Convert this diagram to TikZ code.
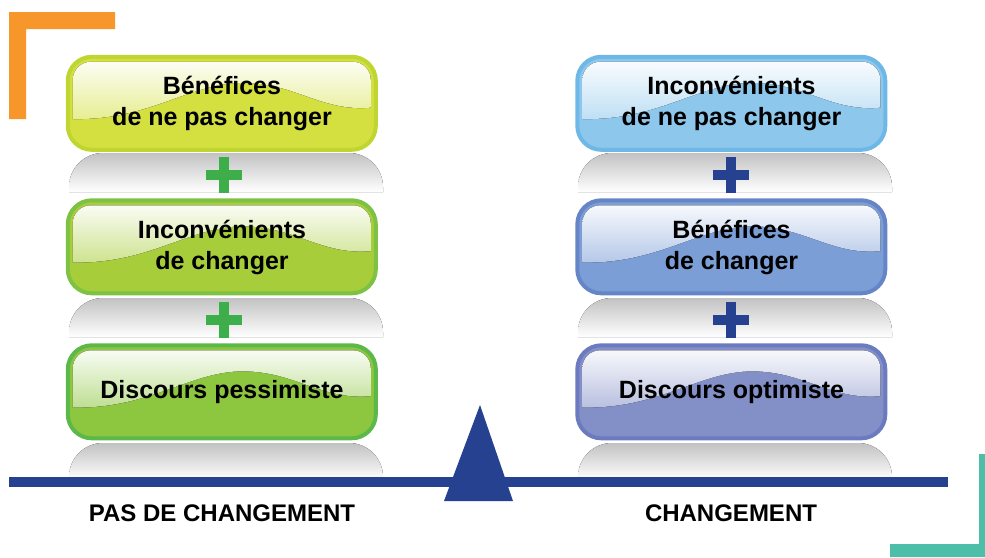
\documentclass[tikz,border=0pt]{standalone}
\usepackage{fontspec}
\setmainfont{Liberation Sans}
\usetikzlibrary{calc,positioning,backgrounds}

\definecolor{jauneVert}{HTML}{D4E03F}
\definecolor{jauneVertBord}{HTML}{BFD631}
\definecolor{vertClair}{HTML}{A8CD3A}
\definecolor{vertClairBord}{HTML}{7DC243}
\definecolor{vertMoyen}{HTML}{8DC63F}
\definecolor{vertMoyenBord}{HTML}{5CB848}
\definecolor{bleuCiel}{HTML}{8EC7EC}
\definecolor{bleuCielBord}{HTML}{6DB8E6}
\definecolor{bleuMoyen}{HTML}{7B9ED6}
\definecolor{bleuMoyenBord}{HTML}{6685C6}
\definecolor{lavande}{HTML}{8390C8}
\definecolor{lavandeBord}{HTML}{6C7BC0}
\definecolor{vertPlus}{HTML}{3DAE4A}
\definecolor{marine}{HTML}{254190}
\definecolor{orangeCoin}{HTML}{F7962B}
\definecolor{turquoise}{HTML}{4DBFA9}

\begin{document}
\begin{tikzpicture}[x=1pt, y=-1pt]
  \tikzset{bouton/.style={minimum width=312pt, minimum height=97pt,
      inner sep=0pt, align=center, font=\bfseries\fontsize{25}{31}\selectfont},
    reflet/.style={top color=black!24, middle color=black!5, bottom color=white, rounded corners=34pt},
    etiquette/.style={font=\bfseries\fontsize{24}{28}\selectfont}}

  \useasboundingbox (0,0) rectangle (985,557);

  % coins decoratifs
  \fill[orangeCoin] (9,12) -- (115,12) -- (115,29) -- (26,29) -- (26,119) -- (9,119) -- cycle;
  \fill[turquoise] (979,454) -- (985,454) -- (985,557) -- (890,557) -- (890,544) -- (979,544) -- cycle;

  % reflets sous les boutons
  \foreach \cx in {222,731}
    \foreach \ha/\hb in {153/192, 298/337, 443/480}
      \fill[reflet] (\cx-153,\hb) |- (\cx,\ha) -| (\cx+161,\hb);

  \node[bouton] (A) at (222,103.5) {Bénéfices\\de ne pas changer};
  \node[bouton] (B) at (222,247) {Inconvénients\\de changer};
  \node[bouton] (C) at (222,392) {Discours pessimiste};
  \node[bouton] (D) at (731.5,103.5) {Inconvénients\\de ne pas changer};
  \node[bouton] (E) at (731.5,247) {Bénéfices\\de changer};
  \node[bouton] (F) at (731.5,392) {Discours optimiste};

  % fond brillant des boutons, sous le texte
  \begin{pgfonlayer}{background}
    \foreach \n/\c in {A/jauneVert, B/vertClair, C/vertMoyen, D/bleuCiel, E/bleuMoyen, F/lavande} {
      \begin{scope}[shift={(\n.north west)}]
        \fill[\c, rounded corners=24pt] (2,2) rectangle (310,95);
        \begin{scope}
          \clip[rounded corners=18pt] (7,7) rectangle (305,90);
          \fill[top color=white, bottom color=\c!60!white]
            (0,0) -- (312,0) -- (312,52) .. controls (258,60) and (232,28) .. (177,28)
            .. controls (122,28) and (82,68) .. (0,64) -- cycle;
        \end{scope}
        \draw[\c Bord, line width=4pt, rounded corners=24pt] (2,2) rectangle (310,95);
      \end{scope}
    }
  \end{pgfonlayer}

  % signes plus
  \foreach \px/\py/\pc in {224/175/vertPlus, 224/320/vertPlus, 731/175/marine, 731/320/marine} {
    \fill[\pc] (\px-18,\py-5) rectangle (\px+18,\py+5);
    \fill[\pc] (\px-5,\py-18) rectangle (\px+5,\py+18);
  }

  % balance
  \coordinate (g) at (9,482);
  \coordinate (d) at (948,482);
  \draw[marine, line width=10pt] (g) -- (d);
  \fill[marine] (480,405) -- (513,501) -- (444,501) -- cycle;

  \node[etiquette] (statu) at (222,513) {PAS DE CHANGEMENT};
  \node[etiquette] (chg) at (731,513) {CHANGEMENT};
\end{tikzpicture}
\end{document}
